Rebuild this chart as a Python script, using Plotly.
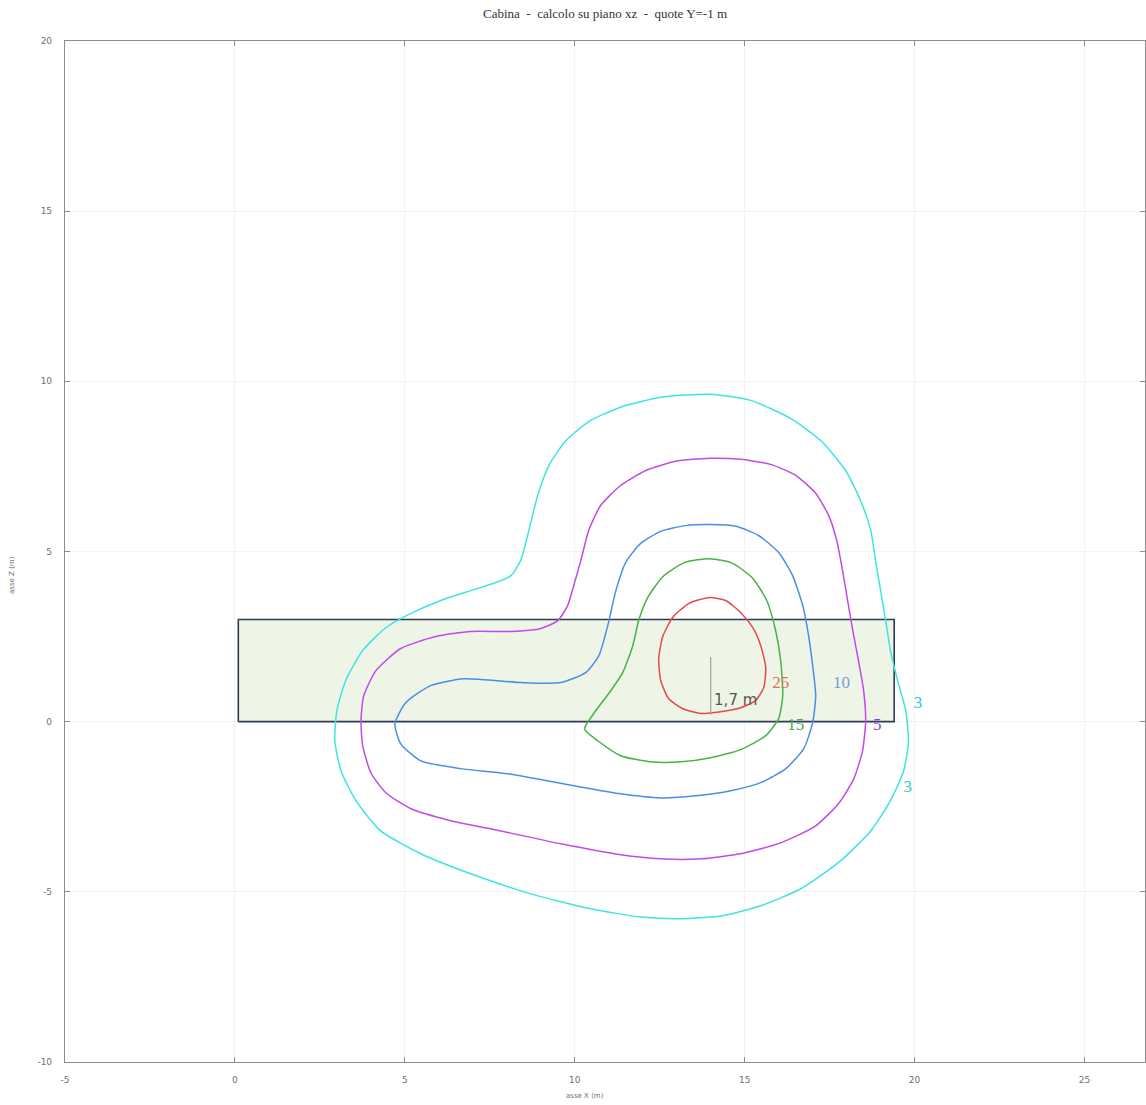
import plotly.graph_objects as go

TITLE = "Cabina  -  calcolo su piano xz  -  quote Y=-1 m"
X_LABEL = "asse X (m)"
Z_LABEL = "asse Z (m)"
X_TICKS = [-5, 0, 5, 10, 15, 20, 25]
Z_TICKS = [-10, -5, 0, 5, 10, 15, 20]

# Cabin footprint (m)
CABIN_X = [0.1, 19.4]
CABIN_Z = [0.0, 3.0]

# Height marker
MARK_X = [14.0, 14.0]
MARK_Z = [0.2, 1.9]
MARK_TEXT = "1,7 m"
MARK_LABEL_POS = (14.1, 0.6)

# Iso-lines (level -> points)
LEVELS = [3, 5, 10, 15, 25]

C3_X = [13.97, 12.53, 11.35, 10.47, 9.74, 9.24, 8.91, 8.65, 8.41, 8.12, 7.68, 6.94, 6.06, 5.18, 4.44, 3.76,
        3.26, 3.0, 2.94, 3.12, 3.56, 4.29, 5.47, 6.94, 8.71, 10.47, 11.94, 13.12, 14.29, 15.47, 16.65, 17.82,
        18.71, 19.29, 19.68, 19.82, 19.74, 19.5, 19.29, 19.15, 19.0, 18.85, 18.71, 18.41, 17.97, 17.24, 16.35, 15.18]
C3_Z = [9.62, 9.53, 9.24, 8.85, 8.26, 7.53, 6.65, 5.62, 4.74, 4.29, 4.09, 3.85, 3.56, 3.18, 2.76, 2.09,
        1.21, 0.32, -0.56, -1.44, -2.32, -3.21, -3.88, -4.47, -5.06, -5.5, -5.74, -5.79, -5.71, -5.41, -4.91, -4.09,
        -3.21, -2.32, -1.44, -0.56, 0.32, 1.21, 2.09, 2.97, 3.85, 4.74, 5.62, 6.5, 7.38, 8.26, 8.91, 9.44]

C5_X = [13.97, 14.88, 15.76, 16.5, 17.09, 17.47, 17.71, 17.88, 18.03, 18.18, 18.35, 18.5, 18.56, 18.47, 18.21,
        17.76, 17.09, 16.06, 14.88, 13.71, 12.53, 11.35, 9.59, 7.82, 6.35, 5.18, 4.44, 4.0, 3.76, 3.71, 3.79,
        4.15, 4.88, 5.91, 6.94, 8.12, 9.0, 9.5, 9.79, 9.97, 10.18, 10.41, 10.76, 11.35, 12.09, 12.97]
C5_Z = [7.74, 7.71, 7.56, 7.24, 6.71, 6.06, 5.32, 4.44, 3.56, 2.68, 1.79, 0.91, 0.03, -0.85, -1.68,
        -2.41, -3.06, -3.56, -3.88, -4.03, -4.03, -3.91, -3.59, -3.21, -2.91, -2.56, -2.09, -1.5, -0.71, 0.03, 0.76,
        1.5, 2.15, 2.5, 2.65, 2.65, 2.74, 2.97, 3.41, 4.0, 4.74, 5.62, 6.35, 6.94, 7.38, 7.65]

C10_X = [13.97, 14.74, 15.41, 16.0, 16.41, 16.71, 16.88, 17.0, 17.09, 17.0, 16.74, 16.21, 15.47, 14.59, 13.56,
         12.53, 11.35, 9.97, 8.03, 6.65, 5.47, 4.88, 4.71, 5.03, 5.76, 6.74, 8.41, 9.59, 10.32, 10.71, 10.97,
         11.21, 11.5, 11.94, 12.53, 13.26]
C10_Z = [5.79, 5.74, 5.47, 4.97, 4.29, 3.41, 2.53, 1.65, 0.76, -0.03, -0.79, -1.38, -1.79, -2.03, -2.18,
         -2.24, -2.12, -1.88, -1.53, -1.38, -1.15, -0.65, -0.06, 0.56, 1.06, 1.26, 1.15, 1.15, 1.44, 1.94, 2.82,
         3.85, 4.68, 5.24, 5.59, 5.76]

C15_X = [13.97, 14.65, 15.24, 15.65, 15.91, 16.06, 16.12, 16.0, 15.62, 14.88, 14.0, 13.12, 12.24, 11.35, 10.76,
         10.29, 10.56, 11.06, 11.41, 11.71, 11.88, 12.15, 12.59, 13.24]
C15_Z = [4.79, 4.65, 4.21, 3.56, 2.68, 1.79, 0.76, 0.09, -0.41, -0.82, -1.06, -1.18, -1.18, -1.0, -0.62,
         -0.21, 0.24, 0.91, 1.44, 2.24, 2.97, 3.65, 4.26, 4.68]

C25_X = [13.97, 14.44, 14.88, 15.24, 15.47, 15.62, 15.56, 15.32, 14.88, 14.29, 13.71, 13.18, 12.76, 12.53, 12.47,
         12.59, 12.88, 13.35]
C25_Z = [3.65, 3.56, 3.21, 2.76, 2.24, 1.59, 1.0, 0.62, 0.41, 0.29, 0.24, 0.38, 0.68, 1.21, 1.85,
         2.5, 3.06, 3.47]

CONTOURS = {3: (C3_X, C3_Z), 5: (C5_X, C5_Z), 10: (C10_X, C10_Z), 15: (C15_X, C15_Z), 25: (C25_X, C25_Z)}
LINE_COLORS = {3: "#3fe3e3", 5: "#c24ae6", 10: "#4b8fe3", 15: "#45b345", 25: "#e34a4a"}
LABEL_COLORS = {3: "#2ec9c9", 5: "#8448d6", 10: "#6f9fd9", 15: "#4caa4c", 25: "#e0705e"}

# Level labels: (level, x, z)
LABEL_LEVEL = [25, 10, 15, 5, 3, 3]
LABEL_X = [16.06, 17.85, 16.5, 18.9, 20.1, 19.8]
LABEL_Z = [1.12, 1.12, -0.12, -0.13, 0.53, -1.94]

fig = go.Figure()

fig.add_trace(go.Scatter(
    x=[CABIN_X[0], CABIN_X[1], CABIN_X[1], CABIN_X[0], CABIN_X[0]],
    y=[CABIN_Z[0], CABIN_Z[0], CABIN_Z[1], CABIN_Z[1], CABIN_Z[0]],
    mode="lines", fill="toself", fillcolor="#eef5e7",
    line=dict(color="#2e3a55", width=1.6), hoverinfo="skip", showlegend=False))

for lvl in LEVELS:
    xs, zs = CONTOURS[lvl]
    fig.add_trace(go.Scatter(
        x=list(xs) + [xs[0]], y=list(zs) + [zs[0]], mode="lines",
        line=dict(color=LINE_COLORS[lvl], width=1.5, shape="spline", smoothing=0.6),
        name=str(lvl), showlegend=False))

fig.add_trace(go.Scatter(x=MARK_X, y=MARK_Z, mode="lines",
                         line=dict(color="#a0a0a0", width=1.2), showlegend=False, hoverinfo="skip"))

fig.add_trace(go.Scatter(
    x=[MARK_LABEL_POS[0]], y=[MARK_LABEL_POS[1]], mode="text", text=[MARK_TEXT],
    textposition="middle right", textfont=dict(family="DejaVu Sans", size=15, color="#555555"),
    showlegend=False, hoverinfo="skip"))

fig.add_trace(go.Scatter(
    x=LABEL_X, y=LABEL_Z, mode="text", text=[str(v) for v in LABEL_LEVEL],
    textposition="middle center",
    textfont=dict(family="Liberation Serif", size=17, color=[LABEL_COLORS[v] for v in LABEL_LEVEL]),
    showlegend=False, hoverinfo="skip"))

axis_common = dict(
    showline=True, linecolor="#8c8c8c", linewidth=1.2, mirror="ticks",
    ticks="inside", ticklen=5, tickcolor="#8c8c8c",
    showgrid=True, gridcolor="#f3f3f3", gridwidth=1, zeroline=False,
    tickfont=dict(family="DejaVu Sans", size=9, color="#707070"),
    automargin=False,
)

fig.update_layout(
    width=1146, height=1105,
    margin=dict(l=65, r=1, t=41, b=43),
    paper_bgcolor="white", plot_bgcolor="white",
    xaxis=dict(range=[-5, 26.78], tickvals=X_TICKS, ticktext=[str(v) for v in X_TICKS],
               ticklabelstandoff=9, **axis_common),
    yaxis=dict(range=[-10, 20], tickvals=Z_TICKS, ticktext=[str(v) for v in Z_TICKS],
               ticklabelstandoff=10, **axis_common),
    annotations=[
        dict(text=TITLE, xref="paper", yref="paper", x=0.5, y=1 + 27 / 1021,
             xanchor="center", yanchor="middle", showarrow=False,
             font=dict(family="Liberation Serif", size=13, color="#333333")),
        dict(text=X_LABEL, xref="paper", yref="paper", x=(585 - 65) / 1080, y=-34 / 1021,
             xanchor="center", yanchor="middle", showarrow=False,
             font=dict(family="DejaVu Sans", size=7, color="#707070")),
        dict(text=Z_LABEL, xref="paper", yref="paper", x=-53 / 1080, y=(1062 - 575) / 1021,
             xanchor="center", yanchor="middle", showarrow=False, textangle=-90,
             font=dict(family="DejaVu Sans", size=7, color="#707070")),
    ],
)

fig.write_html("out.html", config={"displayModeBar": False},
               post_script="document.body.style.margin='0px';")
